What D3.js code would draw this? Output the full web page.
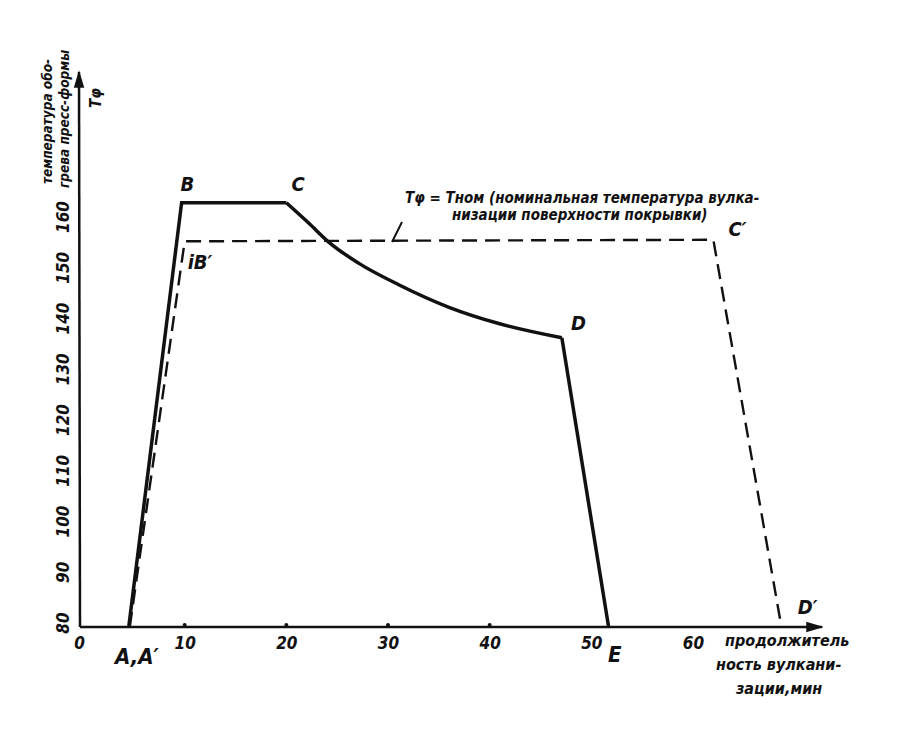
<!DOCTYPE html>
<html>
<head>
<meta charset="utf-8">
<script src="https://cdn.jsdelivr.net/npm/d3@7"></script>
<style>
  body { margin: 0; background: #fff; }
  text { font-family: "DejaVu Sans Condensed", "DejaVu Sans", sans-serif; font-style: oblique; font-weight: bold; fill: #111; }
</style>
</head>
<body>
<div id="chart"></div>
<script>
// tick labels
let xTicks = [0, 10, 20, 30, 40, 50, 60];
let yTicks = [80, 90, 100, 110, 120, 130, 140, 150, 160];

// real heating curve A-B-C-D-E (min, deg C)
let realTime = [4.5, 9.7, 20.0, 22.2, 24.2, 27.1, 31.1, 36.0, 40.9, 47.1, 51.7];
let realTemp = [80, 163.6, 163.6, 159.6, 155.8, 151.7, 147.4, 143.0, 139.8, 137.0, 80];

// nominal curve A'-B'-C'-D'
let nomTime = [4.6, 10.0, 62.0, 68.7];
let nomTemp = [80, 156.0, 156.3, 80];

// point letters
let pointNames = ["B", "C", "D", "iB\u2032", "C\u2032", "D\u2032"];
let pointTime = [9.6, 20.5, 48.0, 10.3, 63.5, 70.3];
let pointTemp = [166, 166, 138.5, 150.5, 157, 82.5];

let width = 900;
let height = 738;

let svg = d3.select("#chart")
  .append("svg")
  .attr("width", width)
  .attr("height", height);

// scales
let fnX = d3.scaleLinear().domain([0, 60]).range([83, 693]);
let fnY = d3.scaleLinear().domain([80, 160]).range([627, 221]);

let x0 = 80, y0 = fnY(80);

// arrow marker
svg.append("defs").append("marker")
  .attr("id", "arr")
  .attr("viewBox", "0 0 10 10")
  .attr("refX", 9).attr("refY", 5)
  .attr("markerWidth", 7).attr("markerHeight", 7)
  .attr("orient", "auto")
  .append("path")
  .attr("d", "M0,2 L10,5 L0,8 Z")
  .attr("fill", "#111");

// axes lines
svg.append("line")
  .attr("x1", x0).attr("y1", y0).attr("x2", 822).attr("y2", y0)
  .attr("stroke", "#111").attr("stroke-width", 2.5)
  .attr("marker-end", "url(#arr)");
svg.append("line")
  .attr("x1", x0).attr("y1", y0).attr("x2", 79).attr("y2", 72)
  .attr("stroke", "#111").attr("stroke-width", 2.5)
  .attr("marker-end", "url(#arr)");

// x axis ticks via d3 axis
let gx = svg.append("g")
  .attr("transform", `translate(0, ${y0})`)
  .call(d3.axisBottom(fnX).tickValues(xTicks).tickSize(0).tickPadding(10));
gx.select(".domain").remove();
gx.selectAll("text")
  .attr("font-size", 17)
  .attr("font-family", null)
  .attr("fill", "#111")
  .attr("dx", d => d === 0 ? -4 : 0);

// small dots on axis
svg.selectAll(".xdot")
  .data([10, 20, 30, 40])
  .enter()
  .append("circle")
  .attr("cx", d => fnX(d))
  .attr("cy", y0 - 2)
  .attr("r", 2)
  .attr("fill", "#111");

// y tick labels, rotated
svg.selectAll(".ylab")
  .data(yTicks)
  .enter()
  .append("text")
  .attr("class", "ylab")
  .attr("transform", d => `translate(69, ${fnY(d) - 4}) rotate(-90)`)
  .attr("text-anchor", "middle")
  .attr("font-size", 17)
  .text(d => d);

// line generator
let fnLine = d3.line().x(d => fnX(d[0])).y(d => fnY(d[1]));

let realPts = realTime.map((t, i) => [t, realTemp[i]]);
let nomPts = nomTime.map((t, i) => [t, nomTemp[i]]);

// nominal dashed curve
svg.append("path")
  .attr("d", fnLine(nomPts))
  .attr("fill", "none")
  .attr("stroke", "#111")
  .attr("stroke-width", 2.4)
  .attr("stroke-dasharray", "15,8");

// real curve: straight pieces plus smooth C-D
svg.append("path")
  .attr("d", fnLine(realPts.slice(0, 3)))
  .attr("fill", "none").attr("stroke", "#111").attr("stroke-width", 3.5);
svg.append("path")
  .attr("d", d3.line().x(d => fnX(d[0])).y(d => fnY(d[1])).curve(d3.curveMonotoneX)(realPts.slice(2, 10)))
  .attr("fill", "none").attr("stroke", "#111").attr("stroke-width", 3.5);
svg.append("path")
  .attr("d", fnLine(realPts.slice(9)))
  .attr("fill", "none").attr("stroke", "#111").attr("stroke-width", 3.5);

// point letters
svg.selectAll(".pt")
  .data(pointNames)
  .enter()
  .append("text")
  .attr("x", (d, i) => fnX(pointTime[i]))
  .attr("y", (d, i) => fnY(pointTemp[i]))
  .attr("font-size", 20)
  .attr("font-weight", "normal")
  .text(d => d);

// A,A' and E under axis
svg.append("text").attr("x", 115).attr("y", 664).attr("font-size", 22).attr("font-weight", "normal").text("A,A\u2032");
svg.append("text").attr("x", 608).attr("y", 662).attr("font-size", 22).attr("font-weight", "normal").text("E");

// x axis title
let xTitle = ["продолжитель", "ность вулкани-", "зации,мин"];
svg.selectAll(".xt")
  .data(xTitle)
  .enter()
  .append("text")
  .attr("x", (d, i) => [725, 716, 736][i])
  .attr("y", (d, i) => 646 + i * 24)
  .attr("font-size", 16)
  .text(d => d);

// y axis title
let yTitle = ["температура обо-", "грева пресс-формы"];
svg.selectAll(".yt")
  .data(yTitle)
  .enter()
  .append("text")
  .attr("transform", (d, i) => `translate(${52 + i * 17}, ${[184, 188][i]}) rotate(-90)`)
  .attr("font-size", 13.5)
  .text(d => d);
svg.append("text")
  .attr("transform", "translate(101, 108) rotate(-90)")
  .attr("font-size", 15)
  .text("Tφ");

// annotation
svg.append("text").attr("x", 405).attr("y", 203).attr("font-size", 15)
  .text("Tφ = Tном (номинальная температура вулка-");
svg.append("text").attr("x", 452).attr("y", 220).attr("font-size", 15)
  .text("низации поверхности покрывки)");
svg.append("line")
  .attr("x1", 402).attr("y1", 222).attr("x2", 392).attr("y2", 242)
  .attr("stroke", "#111").attr("stroke-width", 2);
</script>
</body>
</html>
